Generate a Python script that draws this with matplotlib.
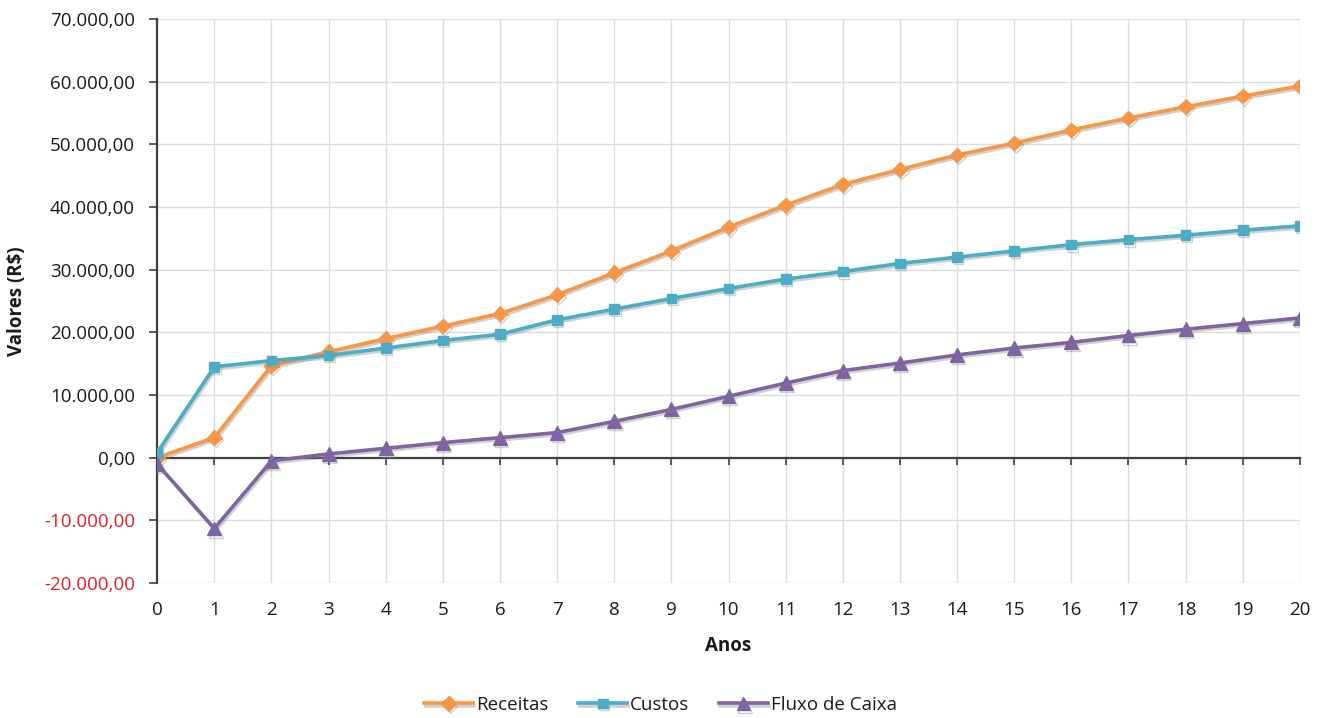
import matplotlib
matplotlib.use("Agg")
import matplotlib.pyplot as plt
import matplotlib.patheffects as pe
from matplotlib.ticker import FuncFormatter, MultipleLocator

plt.rcParams["font.family"] = ["Open Sans", "DejaVu Sans"]

anos = list(range(0, 21))
receitas = [0, 3200, 14700, 16900, 19000, 21000, 23000, 26000, 29500, 33000,
            36800, 40300, 43600, 46000, 48300, 50200, 52300, 54200, 56000,
            57700, 59300]
custos = [800, 14500, 15500, 16300, 17500, 18700, 19700, 22000, 23700, 25400,
          27000, 28500, 29700, 31000, 32000, 33000, 34000, 34800, 35500,
          36300, 37000]
fluxo_caixa = [-1000, -11300, -500, 600, 1500, 2400, 3200, 4000, 5800, 7700,
               9800, 11900, 13900, 15100, 16400, 17500, 18400, 19500, 20500,
               21400, 22300]

series = [
    ("Receitas", receitas, "#F79646", "D", 7.5),
    ("Custos", custos, "#4BACC6", "s", 7),
    ("Fluxo de Caixa", fluxo_caixa, "#8064A2", "^", 10),
]

FS = 13.5


def fmt_br(v, _pos=None):
    s = f"{v:,.2f}"
    return s.replace(",", "X").replace(".", ",").replace("X", ".")


fig = plt.figure(figsize=(13.21, 7.18), dpi=100)
ax = fig.add_axes([0.119, 0.188, 0.865, 0.7855])

shadow = [pe.SimpleLineShadow(offset=(1.0, -1.5), shadow_color="#8a8a8a", alpha=0.4),
          pe.Normal()]
for nome, vals, cor, mk, ms in series:
    ax.plot(anos, vals, color=cor, lw=2.6, marker=mk, markersize=ms,
            markerfacecolor=cor, markeredgecolor=cor, label=nome,
            path_effects=shadow, zorder=3)

ax.set_xlim(0, 20)
ax.set_ylim(-20000, 70000)
ax.yaxis.set_major_locator(MultipleLocator(10000))
ax.yaxis.set_major_formatter(FuncFormatter(fmt_br))
ax.xaxis.set_major_locator(MultipleLocator(1))

ax.grid(True, color="#dcdcdc", lw=1.0, zorder=0)
for s in ("top", "right"):
    ax.spines[s].set_visible(False)
ax.spines["left"].set_color("#404040")
ax.spines["left"].set_linewidth(1.6)
ax.spines["bottom"].set_position(("data", 0))
ax.spines["bottom"].set_color("#404040")
ax.spines["bottom"].set_linewidth(1.6)
ax.tick_params(axis="x", direction="out", length=5, width=1.2, color="#404040",
               labelbottom=False)
ax.tick_params(axis="y", direction="out", length=6, width=1.2, color="#404040",
               labelsize=FS, pad=10)
for lbl in ax.get_yticklabels():
    lbl.set_color("#e0202a" if lbl.get_text().startswith("-") else "#1a1a1a")

# year labels sit below the plot area, not on the zero line
ax_anos = ax.twiny()
ax_anos.set_xlim(ax.get_xlim())
ax_anos.xaxis.set_major_locator(MultipleLocator(1))
ax_anos.xaxis.set_ticks_position("bottom")
ax_anos.xaxis.set_label_position("bottom")
for s in ax_anos.spines.values():
    s.set_visible(False)
ax_anos.tick_params(axis="x", length=0, labelsize=FS, pad=13, labelcolor="#1a1a1a")
ax_anos.set_xlabel("Anos", fontsize=FS, fontweight="bold", labelpad=12,
                   color="#1a1a1a")

ax.set_ylabel("Valores (R$)", fontsize=FS, fontweight="bold", labelpad=12,
              color="#1a1a1a")

leg = fig.legend(*ax.get_legend_handles_labels(), loc="lower center",
                 bbox_to_anchor=(0.5, -0.018), ncol=3, frameon=False, fontsize=FS,
                 handlelength=2.6, handletextpad=0.15, columnspacing=1.6)
for t in leg.get_texts():
    t.set_color("#1a1a1a")

fig.savefig("out.png", dpi=100)
